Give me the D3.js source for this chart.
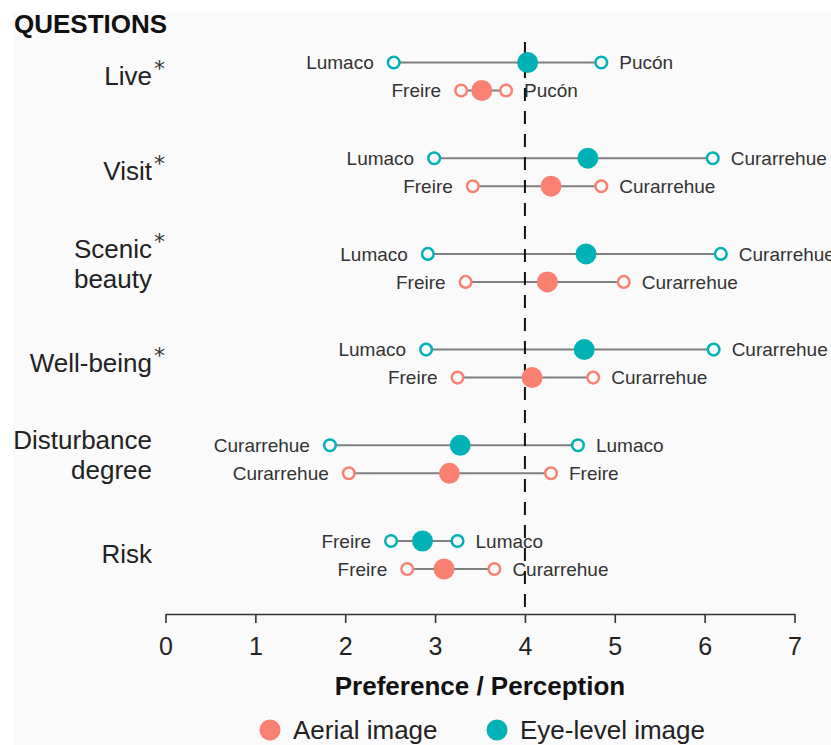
<!DOCTYPE html>
<html>
<head>
<meta charset="utf-8">
<script src="https://cdnjs.cloudflare.com/ajax/libs/d3/7.8.5/d3.min.js"></script>
<style>
  html, body { margin: 0; padding: 0; background: #ffffff; }
  svg { display: block; font-family: "Liberation Sans", Arial, Helvetica, sans-serif; }
</style>
</head>
<body>
<svg id="chart" width="831" height="745"></svg>
<script>
// ---------------- data ----------------
const questions = ["Live", "Visit", "Scenic\nbeauty", "Well-being", "Disturbance\ndegree", "Risk"];
const significant = [true, true, true, true, false, false];

const eyeMean = [4.03, 4.70, 4.68, 4.66, 3.28, 2.86];
const eyeMin  = [2.54, 2.99, 2.92, 2.90, 1.83, 2.51];
const eyeMax  = [4.85, 6.09, 6.18, 6.10, 4.59, 3.25];
const eyeMinSite = ["Lumaco", "Lumaco", "Lumaco", "Lumaco", "Curarrehue", "Freire"];
const eyeMaxSite = ["Pucón", "Curarrehue", "Curarrehue", "Curarrehue", "Lumaco", "Lumaco"];

const aerialMean = [3.52, 4.29, 4.25, 4.08, 3.16, 3.10];
const aerialMin  = [3.29, 3.42, 3.34, 3.25, 2.04, 2.69];
const aerialMax  = [3.79, 4.85, 5.10, 4.76, 4.29, 3.66];
const aerialMinSite = ["Freire", "Freire", "Freire", "Freire", "Curarrehue", "Freire"];
const aerialMaxSite = ["Pucón", "Curarrehue", "Curarrehue", "Curarrehue", "Freire", "Curarrehue"];

const seriesNames = ["Aerial image", "Eye-level image"];
const xTicks = [0, 1, 2, 3, 4, 5, 6, 7];
const neutralValue = 4;

// ---------------- styling ----------------
const colors = { "Aerial image": "#FA8072", "Eye-level image": "#00B2B6" };
const rowOffset = { "Eye-level image": -14, "Aerial image": 14 };

const series = [
  { name: "Eye-level image", mean: eyeMean, min: eyeMin, max: eyeMax, minSite: eyeMinSite, maxSite: eyeMaxSite },
  { name: "Aerial image", mean: aerialMean, min: aerialMin, max: aerialMax, minSite: aerialMinSite, maxSite: aerialMaxSite }
];
const rows = [];
series.forEach(s => questions.forEach((q, i) => rows.push({
  q, series: s.name, mean: s.mean[i], min: s.min[i], max: s.max[i], minSite: s.minSite[i], maxSite: s.maxSite[i]
})));

const svg = d3.select("#chart");
svg.append("rect").attr("x", 13).attr("y", 12).attr("width", 831 - 13).attr("height", 745 - 12).attr("fill", "#fafafa");

const x = d3.scaleLinear().domain([0, 7]).range([165.5, 794.5]);
const y = d3.scalePoint().domain(questions).range([76.5, 555]);
const yy = d => y(d.q) + rowOffset[d.series];
const axisY = 614;

// title
svg.append("text").attr("x", 14).attr("y", 33).attr("font-size", 26).attr("font-weight", "bold")
  .attr("fill", "#111").text("QUESTIONS");

// question labels
questions.forEach((q, i) => {
  const lines = q.split("\n");
  const cy = y(q);
  const baselines = lines.length === 1 ? [cy + 8] : [cy - 10, cy + 20];
  lines.forEach((ln, j) => {
    svg.append("text").attr("x", 152).attr("y", baselines[j]).attr("text-anchor", "end")
      .attr("font-size", 26).attr("fill", "#222").text(ln);
  });
  if (significant[i]) {
    svg.append("text").attr("x", 154).attr("y", baselines[0] - 9).attr("font-size", 22)
      .attr("font-family", "'DejaVu Sans', sans-serif")
      .attr("fill", "#333").text("*");
  }
});

// segments
svg.append("g").selectAll("line").data(rows).join("line")
  .attr("x1", d => x(d.min)).attr("x2", d => x(d.max))
  .attr("y1", yy).attr("y2", yy)
  .attr("stroke", "#7f7f7f").attr("stroke-width", 2);

// site labels
const lab = svg.append("g").attr("font-size", 19).attr("fill", "#333");
lab.selectAll("text.l").data(rows).join("text").attr("class", "l")
  .attr("x", d => x(d.min) - 20).attr("y", yy).attr("dy", "0.35em").attr("text-anchor", "end")
  .text(d => d.minSite);
lab.selectAll("text.r").data(rows).join("text").attr("class", "r")
  .attr("x", d => x(d.max) + 18).attr("y", yy).attr("dy", "0.35em").attr("text-anchor", "start")
  .text(d => d.maxSite);

// neutral dashed line
svg.append("line").attr("x1", x(neutralValue)).attr("x2", x(neutralValue))
  .attr("y1", 42).attr("y2", axisY)
  .attr("stroke", "#111").attr("stroke-width", 2).attr("stroke-dasharray", "13,10");

// markers
const mk = svg.append("g");
mk.selectAll("circle.min").data(rows).join("circle").attr("class", "min")
  .attr("cx", d => x(d.min)).attr("cy", yy).attr("r", 5.8)
  .attr("fill", "#fafafa").attr("stroke", d => colors[d.series]).attr("stroke-width", 2.5);
mk.selectAll("circle.max").data(rows).join("circle").attr("class", "max")
  .attr("cx", d => x(d.max)).attr("cy", yy).attr("r", 5.8)
  .attr("fill", "#fafafa").attr("stroke", d => colors[d.series]).attr("stroke-width", 2.5);
mk.selectAll("circle.mean").data(rows).join("circle").attr("class", "mean")
  .attr("cx", d => x(d.mean)).attr("cy", yy).attr("r", 10.5)
  .attr("fill", d => colors[d.series]);

// axis
const axis = svg.append("g").attr("transform", `translate(0,${axisY})`)
  .call(d3.axisBottom(x).tickValues(xTicks).tickFormat(d3.format("d")).tickSize(9).tickSizeOuter(0).tickPadding(14));
axis.select(".domain").attr("stroke", "#333").attr("stroke-width", 1.6);
axis.selectAll(".tick line").attr("stroke", "#333").attr("stroke-width", 1.6);
axis.selectAll(".tick text").attr("font-size", 25).attr("fill", "#222")
  .attr("font-family", "'Liberation Sans', Arial, sans-serif");

svg.append("text").attr("x", 480).attr("y", 695).attr("text-anchor", "middle")
  .attr("font-size", 26).attr("font-weight", "bold").attr("fill", "#111")
  .text("Preference / Perception");

// legend
const legX = [270, 497];
seriesNames.forEach((s, i) => {
  svg.append("circle").attr("cx", legX[i]).attr("cy", 730).attr("r", 10.5).attr("fill", colors[s]);
  svg.append("text").attr("x", legX[i] + 23).attr("y", 739).attr("font-size", 26).attr("fill", "#222").text(s);
});
</script>
</body>
</html>
